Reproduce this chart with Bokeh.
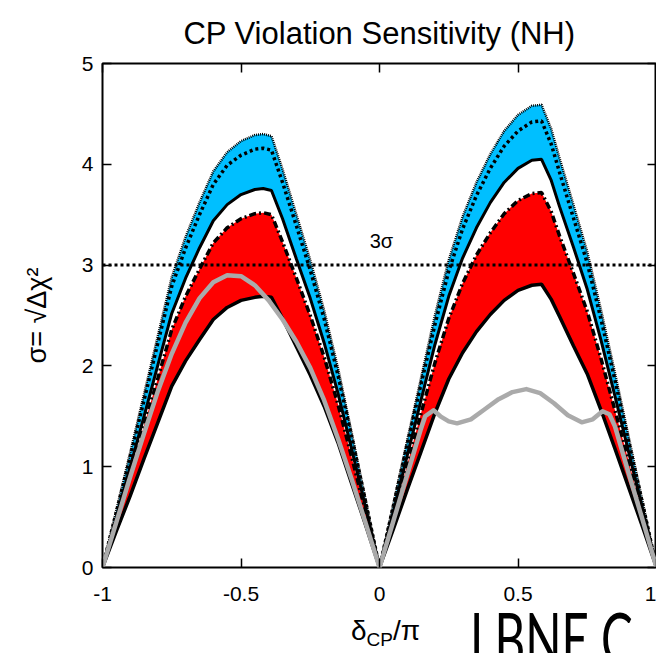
import numpy as np
from bokeh.plotting import figure
from bokeh.layouts import column
from bokeh.models import Range1d, LinearAxis, FixedTicker, Span, Label, Div
from bokeh.embed import file_html
from bokeh.resources import INLINE

# ---------------- data ----------------
delta_cp = [-1, -0.95, -0.9, -0.85, -0.8, -0.75, -0.7, -0.65, -0.6, -0.55, -0.5, -0.45, -0.42, -0.39,
            -0.35, -0.3, -0.25, -0.2, -0.15, -0.1, -0.05, 0,
            0.05, 0.1, 0.15, 0.2, 0.25, 0.3, 0.35, 0.4, 0.45, 0.5, 0.55, 0.585, 0.62,
            0.65, 0.7, 0.75, 0.8, 0.85, 0.9, 0.95, 1.0]

blue_upper = [0, 0.57, 1.14, 1.72, 2.30, 2.88, 3.28, 3.62, 3.93, 4.12, 4.23, 4.29, 4.30, 4.28,
              3.95, 3.50, 3.05, 2.55, 1.98, 1.33, 0.67, 0,
              0.63, 1.26, 1.88, 2.50, 3.05, 3.48, 3.82, 4.10, 4.33, 4.49, 4.58, 4.59, 4.35,
              4.06, 3.60, 3.13, 2.55, 1.93, 1.29, 0.65, 0]

blue_mid = [0, 0.55, 1.10, 1.66, 2.23, 2.79, 3.17, 3.50, 3.80, 3.99, 4.09, 4.15, 4.16, 4.14,
            3.82, 3.39, 2.95, 2.47, 1.91, 1.29, 0.65, 0,
            0.61, 1.22, 1.82, 2.41, 2.94, 3.36, 3.69, 3.96, 4.18, 4.33, 4.42, 4.43, 4.20,
            3.92, 3.47, 3.02, 2.46, 1.86, 1.24, 0.63, 0]

blue_lower = [0, 0.50, 1.00, 1.50, 2.01, 2.52, 2.87, 3.17, 3.44, 3.60, 3.70, 3.75, 3.76, 3.74,
              3.46, 3.06, 2.67, 2.23, 1.73, 1.17, 0.59, 0,
              0.55, 1.11, 1.66, 2.21, 2.69, 3.07, 3.37, 3.62, 3.82, 3.96, 4.04, 4.05, 3.84,
              3.58, 3.18, 2.76, 2.25, 1.70, 1.14, 0.58, 0]

red_upper = [0, 0.47, 0.93, 1.41, 1.88, 2.36, 2.69, 2.96, 3.22, 3.37, 3.46, 3.51, 3.52, 3.50,
             3.23, 2.87, 2.50, 2.09, 1.62, 1.09, 0.55, 0,
             0.51, 1.02, 1.53, 2.03, 2.47, 2.82, 3.10, 3.32, 3.51, 3.64, 3.71, 3.72, 3.53,
             3.29, 2.92, 2.54, 2.07, 1.56, 1.05, 0.53, 0]

red_lower = [0, 0.36, 0.71, 1.08, 1.44, 1.80, 2.05, 2.26, 2.46, 2.58, 2.65, 2.68, 2.69, 2.68,
             2.47, 2.19, 1.91, 1.60, 1.24, 0.83, 0.42, 0,
             0.38, 0.77, 1.15, 1.53, 1.87, 2.13, 2.34, 2.51, 2.65, 2.75, 2.80, 2.81, 2.66,
             2.49, 2.20, 1.92, 1.56, 1.18, 0.79, 0.40, 0]

gray_delta = [-1, -0.95, -0.9, -0.85, -0.8, -0.75, -0.7, -0.65, -0.6, -0.55, -0.5, -0.45, -0.4,
              -0.35, -0.3, -0.25, -0.2, -0.15, -0.1, -0.05, 0,
              0.05, 0.1, 0.15, 0.165, 0.195, 0.22, 0.25, 0.28, 0.33, 0.38, 0.43, 0.48, 0.53,
              0.58, 0.63, 0.68, 0.73, 0.77, 0.805, 0.83, 0.85, 0.9, 0.95, 1.0]
gray_sigma = [0, 0.45, 0.90, 1.33, 1.75, 2.12, 2.43, 2.67, 2.83, 2.90, 2.89, 2.80, 2.65,
              2.46, 2.24, 1.98, 1.66, 1.28, 0.87, 0.44, 0,
              0.46, 0.92, 1.38, 1.50, 1.56, 1.50, 1.45, 1.43, 1.47, 1.57, 1.67, 1.74, 1.77,
              1.73, 1.63, 1.51, 1.44, 1.47, 1.55, 1.52, 1.40, 0.93, 0.47, 0]

sigma_level = 3
x_ticks = [-1, -0.5, 0, 0.5, 1]
x_tick_labels = ["-1", "-0.5", "0", "0.5", "1"]
y_ticks = [0, 1, 2, 3, 4, 5]
y_tick_labels = ["0", "1", "2", "3", "4", "5"]

FONT = "Liberation Sans"

p = figure(width=656, height=616, x_range=Range1d(-1, 1), y_range=Range1d(0, 5),
           output_backend="svg", toolbar_location=None,
           min_border_left=102, min_border_right=0, min_border_top=62, min_border_bottom=49)
p.grid.visible = False
p.background_fill_color = "white"
p.border_fill_color = "white"
p.outline_line_color = "black"
p.outline_line_width = 2

p.title.text = "CP Violation Sensitivity (NH)"
p.title.text_font = FONT
p.title.text_font_size = "31px"
p.title.text_font_style = "normal"
p.title.align = "center"
p.title.text_color = "black"
p.title.standoff = 26


def style_axis(ax, ticks, labels, show_labels):
    ax.ticker = FixedTicker(ticks=ticks)
    ax.major_label_overrides = {t: l for t, l in zip(ticks, labels)}
    ax.major_tick_in = 9
    ax.major_tick_out = 0
    ax.major_tick_line_width = 1.5
    ax.minor_tick_line_color = None
    ax.axis_line_color = None
    ax.major_label_text_font = FONT
    if show_labels:
        ax.major_label_text_font_size = "21px"
        ax.major_label_text_color = "black"
    else:
        ax.major_label_text_font_size = "1px"
        ax.major_label_text_color = None
        ax.major_label_standoff = 0


style_axis(p.xaxis[0], x_ticks, x_tick_labels, True)
p.xaxis[0].major_label_standoff = 19
style_axis(p.yaxis[0], y_ticks, y_tick_labels, True)
p.yaxis[0].major_label_standoff = 9
p.yaxis[0].axis_label = "σ= √Δχ²"
p.yaxis[0].axis_label_text_font = FONT
p.yaxis[0].axis_label_text_font_size = "27px"
p.yaxis[0].axis_label_text_font_style = "normal"
p.yaxis[0].axis_label_text_color = "black"
p.yaxis[0].axis_label_standoff = 27

top = LinearAxis()
style_axis(top, x_ticks, x_tick_labels, False)
p.add_layout(top, "above")
right = LinearAxis()
style_axis(right, y_ticks, y_tick_labels, False)
p.add_layout(right, "right")

# bands
p.varea(x=delta_cp, y1=blue_lower, y2=blue_upper, fill_color="#00bfff")
p.varea(x=delta_cp, y1=red_lower, y2=red_upper, fill_color="#ff0000")

# outlines
p.line(delta_cp, blue_upper, line_color="black", line_width=2.5, line_dash="1 1")
p.line(delta_cp, blue_mid, line_color="black", line_width=3.5, line_dash="3 3")
p.line(delta_cp, blue_lower, line_color="black", line_width=3)
p.line(delta_cp, red_upper, line_color="black", line_width=3.5, line_dash="7 3 2 3")
p.line(delta_cp, red_lower, line_color="black", line_width=3.5)

p.add_layout(Span(location=sigma_level, dimension="width", line_color="black",
                  line_width=3, line_dash="3 3"))

p.line(gray_delta, gray_sigma, line_color="#aaaaaa", line_width=4.5, line_join="round")

p.add_layout(Label(x=0.007, y=3.24, text="3σ", text_font=FONT, text_font_size="20px",
                   text_align="center", text_baseline="middle", text_color="black"))

bottom_html = (
    '<div style="position:relative;width:656px;height:37px;overflow:visible;'
    'font-family:\'Liberation Sans\',sans-serif;color:black;">'
    '<div style="position:absolute;left:351px;top:0px;font-size:28px;line-height:30px;'
    'white-space:nowrap;">&delta;<sub style="font-size:19px;vertical-align:-6px;">CP</sub>/&pi;</div>'
    '<div style="position:absolute;left:470px;top:-13px;font-family:Lato,sans-serif;'
    'font-size:58px;line-height:58px;white-space:nowrap;transform:scale(0.82,1.22);'
    'transform-origin:left top;">LBNE C</div>'
    '</div>'
)
bottom = Div(text=bottom_html, width=656, height=37, margin=(0, 0, 0, 0),
             styles={"overflow": "visible"})

layout = column(p, bottom, spacing=0)
open("out.html", "w").write(file_html(layout, INLINE))
